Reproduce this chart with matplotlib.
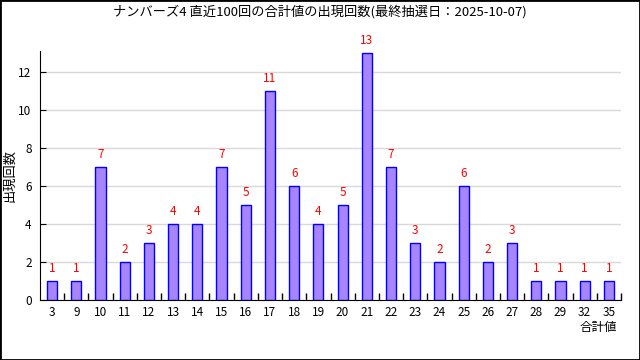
import matplotlib
matplotlib.use('Agg')
import matplotlib.pyplot as plt
from matplotlib.patches import Rectangle
import numpy as np

plt.rcParams['font.family'] = ['Noto Sans CJK JP', 'DejaVu Sans']

# 合計値ごとの出現回数
sums = ['3', '9', '10', '11', '12', '13', '14', '15', '16', '17', '18', '19',
        '20', '21', '22', '23', '24', '25', '26', '27', '28', '29', '32', '35']
counts = [1, 1, 7, 2, 3, 4, 4, 7, 5, 11, 6, 4, 5, 13, 7, 3, 2, 6, 2, 3, 1, 1, 1, 1]
title = 'ナンバーズ4 直近100回の合計値の出現回数(最終抽選日：2025-10-07)'

fig = plt.figure(figsize=(6.4, 3.6), dpi=100)
ax = fig.add_axes([40/640, 1-300/360, 581/640, 249/360])

x = np.arange(len(sums))
ax.bar(x, counts, width=0.42, color='#a685ff', edgecolor='#0000ff', linewidth=1, zorder=3)
for xi, c in zip(x, counts):
    ax.text(xi, c + 0.3, str(c), color='#ff0000', ha='center', va='bottom', fontsize=8.5)

ax.set_xlim(-0.5, len(sums) - 0.5)
ax.set_ylim(0, 13.1)
ax.set_xticks(x)
ax.set_xticklabels(sums, fontsize=8.5)
ax.set_xticks(np.arange(len(sums)) + 0.5, minor=True)
ax.tick_params(axis='x', which='major', length=0, pad=4)
ax.tick_params(axis='x', which='minor', direction='in', length=5, width=1)
ax.set_yticks(range(0, 13, 2))
ax.tick_params(axis='y', direction='in', length=4, labelsize=8.5, pad=6)
ax.yaxis.grid(True, color='#d9d9d9', linewidth=1, zorder=0)
ax.spines['top'].set_visible(False)
ax.spines['right'].set_visible(False)

fig.text(0.5, 1 - 12/360, title, ha='center', va='center', fontsize=9.5)
fig.text(10/640, 1 - 175/360, '出現回数', rotation=90, ha='center', va='center', fontsize=9.5)
fig.text(598/640, 1 - 327/360, '合計値', ha='center', va='center', fontsize=9)

fig.patches.append(Rectangle((0, 0), 1, 1, transform=fig.transFigure, fill=False,
                             edgecolor='black', linewidth=2))

fig.savefig('out.png', dpi=100)
